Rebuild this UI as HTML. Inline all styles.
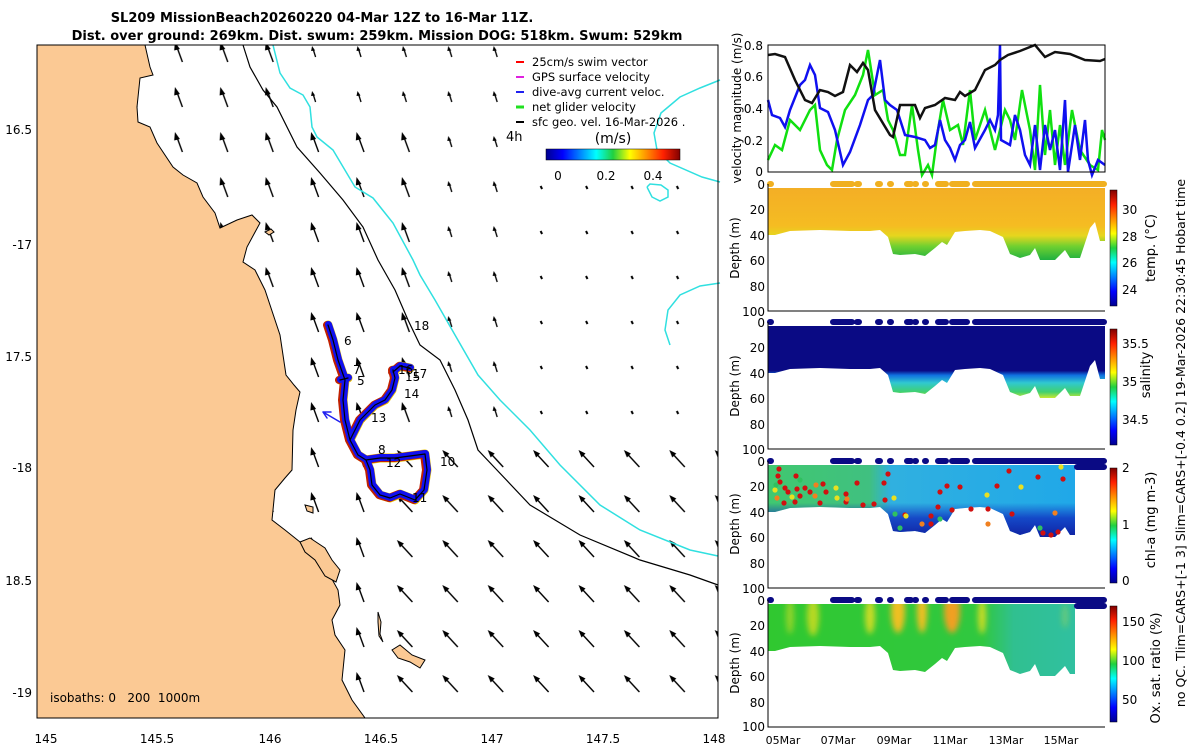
<!DOCTYPE html>
<html><head><meta charset="utf-8"><style>
body{margin:0;background:#fff;width:1200px;height:750px;overflow:hidden}
svg{display:block;font-family:"DejaVu Sans","Liberation Sans",sans-serif}
</style></head><body>
<svg width="1200" height="750" viewBox="0 0 1200 750" xmlns="http://www.w3.org/2000/svg">
<defs>
<linearGradient id="jetH" x1="0" x2="1" y1="0" y2="0">
<stop offset="0" stop-color="#00008f"/><stop offset=".125" stop-color="#0000ff"/><stop offset=".375" stop-color="#00ffff"/><stop offset=".5" stop-color="#20d040"/><stop offset=".625" stop-color="#ffff00"/><stop offset=".875" stop-color="#ff2000"/><stop offset="1" stop-color="#800000"/></linearGradient>
<linearGradient id="jetV" x1="0" x2="0" y1="1" y2="0">
<stop offset="0" stop-color="#00008f"/><stop offset=".125" stop-color="#0000ff"/><stop offset=".375" stop-color="#00ffff"/><stop offset=".5" stop-color="#20d040"/><stop offset=".625" stop-color="#ffff00"/><stop offset=".875" stop-color="#ff2000"/><stop offset="1" stop-color="#800000"/></linearGradient>
<linearGradient id="gT" gradientUnits="userSpaceOnUse" x1="0" y1="184" x2="0" y2="260">
<stop offset="0" stop-color="#f3ad26"/><stop offset=".55" stop-color="#f5bc22"/><stop offset=".68" stop-color="#e6d61e"/><stop offset=".82" stop-color="#70d030"/><stop offset="1" stop-color="#20b040"/></linearGradient>
<linearGradient id="gS" gradientUnits="userSpaceOnUse" x1="0" y1="184" x2="0" y2="260">
<stop offset="0" stop-color="#0a0a84"/><stop offset=".64" stop-color="#0a0a84"/><stop offset=".7" stop-color="#1070e0"/><stop offset=".8" stop-color="#30c8d0"/><stop offset=".92" stop-color="#40d070"/><stop offset="1" stop-color="#c8e830"/></linearGradient>
<linearGradient id="gC" gradientUnits="userSpaceOnUse" x1="768" y1="0" x2="1075" y2="0">
<stop offset="0" stop-color="#40c870"/><stop offset=".33" stop-color="#40c080"/><stop offset=".4" stop-color="#30b0e0"/><stop offset="1" stop-color="#20a8e8"/></linearGradient>
<linearGradient id="gC2" gradientUnits="userSpaceOnUse" x1="0" y1="184" x2="0" y2="260">
<stop offset="0" stop-color="#1030c0" stop-opacity="0"/><stop offset=".55" stop-color="#1030c0" stop-opacity="0"/><stop offset=".75" stop-color="#1030c0" stop-opacity=".8"/><stop offset="1" stop-color="#1020a0" stop-opacity="1"/></linearGradient>
<linearGradient id="gO" gradientUnits="userSpaceOnUse" x1="768" y1="0" x2="1075" y2="0">
<stop offset="0" stop-color="#30c830"/><stop offset=".7" stop-color="#30c840"/><stop offset=".8" stop-color="#30c090"/><stop offset="1" stop-color="#30c0a0"/></linearGradient>
<polygon id="P" points="768,188 1105,188 1105,241 1100,241 1095,222 1090,228 1080,258 1070,258 1065,250 1055,260 1040,260 1035,248 1030,255 1020,258 1010,254 1003,237 990,231 980,230 965,231 955,232 947,245 942,242 935,248 925,256 915,254 900,255 893,254 888,237 880,230 870,231 850,231 820,230 790,231 775,235 768,235"/>
<polygon id="Q" points="768,188 1075,188 1075,258 1070,258 1065,250 1055,260 1040,260 1035,248 1030,255 1020,258 1010,254 1003,237 990,231 980,230 965,231 955,232 947,245 942,242 935,248 925,256 915,254 900,255 893,254 888,237 880,230 870,231 850,231 820,230 790,231 775,235 768,235"/>
<clipPath id="cQ"><use href="#Q"/></clipPath>
<filter id="bl"><feGaussianBlur stdDeviation="3"/></filter>
<pattern id="pA" patternUnits="userSpaceOnUse" x="110" y="30" width="45.4" height="45">
<path d="M27,32 L21.5,17" stroke="#000" stroke-width="1.4"/><path d="M19.5,12 L24.5,19 L18.8,20.5Z" fill="#000"/></pattern>
<pattern id="pB" patternUnits="userSpaceOnUse" x="110" y="30" width="45.4" height="45">
<path d="M24,27 L21.5,19" stroke="#000" stroke-width="1.3"/><path d="M20.5,16 L23.5,20.5 L19.5,21Z" fill="#000"/></pattern>
<pattern id="pC" patternUnits="userSpaceOnUse" x="110" y="30" width="45.4" height="45">
<path d="M23.5,24 L22,21" stroke="#000" stroke-width="2"/></pattern>
<pattern id="pD" patternUnits="userSpaceOnUse" x="110" y="30" width="45.4" height="45">
<path d="M30,32 L18,19" stroke="#000" stroke-width="1.4"/><path d="M14.5,15 L21.5,18.5 L17.5,22.5Z" fill="#000"/></pattern>
<path id="trk" d="M328,325 L333,340 338,360 345,380 343,400 345,420 350,440 358,455 366,460 380,458 395,458 410,456 425,454 427,470 424,490 415,500 400,494 390,498 380,495 372,485 370,470 366,460 M350,440 L360,420 375,405 385,400 392,390 395,378 393,370 M393,372 L400,366 410,368 M340,380 L348,378"/>
</defs>

<text x="322" y="22" font-size="13" font-weight="bold" text-anchor="middle">SL209 MissionBeach20260220 04-Mar 12Z to 16-Mar 11Z.</text>
<text x="377" y="40" font-size="13" font-weight="bold" text-anchor="middle">Dist. over ground: 269km. Dist. swum: 259km. Mission DOG: 518km. Swum: 529km</text>

<!-- MAP -->
<g>
<rect x="110" y="120" width="317.8" height="315" fill="url(#pA)"/>
<rect x="110" y="45" width="181.6" height="75" fill="url(#pA)"/>
<rect x="291.6" y="45" width="227" height="75" fill="url(#pB)"/>
<rect x="427.8" y="120" width="90.8" height="315" fill="url(#pB)"/>
<rect x="518.6" y="165" width="199.4" height="270" fill="url(#pC)"/>
<rect x="700.2" y="45" width="17.8" height="120" fill="url(#pC)"/>
<rect x="110" y="435" width="272.4" height="283" fill="url(#pA)"/>
<rect x="382.4" y="435" width="335.6" height="283" fill="url(#pD)"/>

<path d="M37,45 L145,45 150,67 153,75 140,78 137,107 138,122 150,127 157,143 173,167 183,175 197,183 203,197 215,213 220,228 237,220 252,215 260,223 247,247 243,262 255,270 265,290 280,335 286,375 294,385 300,392 296,410 293,430 292,470 285,478 275,490 272,520 285,530 300,542 315,556 328,572 338,590 340,605 332,620 335,635 345,650 342,680 352,700 365,718 37,718 Z" fill="#fbc994" stroke="#000" stroke-width="1"/>
<path d="M300,542 L310,538 325,548 332,560 340,570 336,582 325,576 315,560 305,552Z" fill="#fbc994" stroke="#000" stroke-width="1"/>
<path d="M392,650 L398,658 410,662 420,668 425,660 412,655 400,645Z" fill="#fbc994" stroke="#000" stroke-width="1"/>
<path d="M378,612 l3,10 -1,12 3,8 -4,-6 -1,-14z M305,505 l8,2 0,6 -6,-2z M265,232 l6,-3 3,3 -5,3z" fill="#fbc994" stroke="#000" stroke-width="1"/>
<polyline fill="none" stroke="#000" stroke-width="1.2" points="243,45 250,67 263,90 277,107 297,147 320,173 343,200 363,227 378,260 395,290 408,320 420,345 440,360 455,390 468,420 478,450 495,468 530,505 580,535 640,560 690,575 718,585"/>
<polyline fill="none" stroke="#30e0e0" stroke-width="1.5" points="273,45 280,73 290,88 303,95 310,107 312,127 317,137 333,150 355,187 373,198 393,223 413,260 420,275 435,300 455,335 478,375 500,400 530,430 560,465 600,505 640,530 690,550 718,556"/>
<polyline fill="none" stroke="#30e0e0" stroke-width="1.5" points="720,80 700,88 680,97 661,113 654,133 657,150 670,163 702,177 720,182"/>
<polyline fill="none" stroke="#30e0e0" stroke-width="1.5" points="647,187 652,197 660,201 668,197 668,190 661,185 650,184 647,187"/>
<polyline fill="none" stroke="#30e0e0" stroke-width="1.5" points="720,283 700,286 680,295 668,310 665,330 670,345"/>

<g fill="none" stroke-linejoin="round" stroke-linecap="round">
<use href="#trk" stroke="#e8c000" stroke-width="9"/>
<use href="#trk" stroke="#c02000" stroke-width="8" transform="translate(-1,0)"/>
<use href="#trk" stroke="#1010f0" stroke-width="7" transform="translate(0.5,-0.5)"/>
<use href="#trk" stroke="#000" stroke-width="1.2"/>
<path d="M340,422 L323,412 M323,412 l8,0 M323,412 l4,6" stroke="#2020f0" stroke-width="1.5"/>
</g>
<g font-size="12">
<text x="344" y="345">6</text><text x="353" y="374">7</text><text x="357" y="385">5</text>
<text x="398" y="374">16</text><text x="405" y="381">15</text><text x="412" y="378">17</text>
<text x="404" y="398">14</text><text x="371" y="422">13</text><text x="378" y="454">8</text>
<text x="386" y="467">12</text><text x="440" y="466">10</text><text x="412" y="502">11</text><text x="414" y="330">18</text>
</g>
<text x="50" y="702" font-size="12" xml:space="preserve">isobaths: 0   200  1000m</text>

<g font-size="11.5">
<line x1="516" y1="62" x2="524" y2="62" stroke="#f00" stroke-width="2"/><text x="532" y="66">25cm/s swim vector</text>
<line x1="516" y1="77" x2="524" y2="77" stroke="#e020e0" stroke-width="2"/><text x="532" y="81">GPS surface velocity</text>
<line x1="516" y1="92" x2="524" y2="92" stroke="#2020f0" stroke-width="2"/><text x="532" y="96">dive-avg current veloc.</text>
<line x1="516" y1="107" x2="524" y2="107" stroke="#20e020" stroke-width="3"/><text x="532" y="111">net glider velocity</text>
<line x1="516" y1="122" x2="524" y2="122" stroke="#000" stroke-width="2"/><text x="532" y="126">sfc geo. vel. 16-Mar-2026 .</text>
</g>
<text x="506" y="141" font-size="13">4h</text>
<text x="613" y="143" font-size="14" text-anchor="middle">(m/s)</text>
<rect x="546" y="149" width="134" height="11" fill="url(#jetH)" stroke="#000" stroke-width=".5"/>
<g font-size="12" text-anchor="middle"><text x="558" y="180">0</text><text x="606" y="180">0.2</text><text x="653" y="180">0.4</text></g>

<rect x="37" y="45" width="681" height="673" fill="none" stroke="#000" stroke-width="1"/>
<g font-size="12" text-anchor="end"><text x="32" y="134">16.5</text><text x="32" y="249">-17</text><text x="32" y="361">17.5</text><text x="32" y="472">-18</text><text x="32" y="585">18.5</text><text x="32" y="697">-19</text></g>
<g font-size="12" text-anchor="middle"><text x="46" y="743">145</text><text x="157" y="743">145.5</text><text x="270" y="743">146</text><text x="381" y="743">146.5</text><text x="492" y="743">147</text><text x="603" y="743">147.5</text><text x="714" y="743">148</text></g>
</g>

<!-- VELOCITY PANEL -->
<polyline fill="none" stroke="#10e010" stroke-width="2.5" points="768,160 775,145 782,150 790,120 800,130 810,110 815,105 820,150 827,165 832,170 837,140 845,110 855,95 863,75 868,50 875,95 883,90 888,120 893,130 900,155 905,155 912,105 918,150 922,175 928,165 932,175 938,130 943,100 950,130 958,125 963,145 970,90 975,140 985,110 995,150 1005,110 1010,120 1015,140 1022,90 1030,130 1035,170 1040,85 1045,155 1050,110 1055,165 1060,125 1065,165 1072,110 1080,150 1090,165 1098,170 1102,130 1105,140"/>
<polyline fill="none" stroke="#1010f0" stroke-width="2.5" points="768,100 772,115 780,118 785,127 790,110 800,85 805,80 810,65 815,75 820,108 828,112 835,130 843,165 850,152 860,125 868,100 873,95 880,60 885,100 890,105 897,110 905,135 915,137 925,140 930,148 935,145 940,120 945,140 950,148 955,160 960,145 965,140 970,122 975,148 985,130 990,120 995,130 998,115 1000,45 1001,140 1010,145 1015,115 1020,130 1025,155 1030,165 1035,125 1040,170 1045,125 1050,150 1055,130 1060,170 1065,100 1068,172 1075,125 1080,160 1085,120 1088,160 1092,175 1098,160 1105,165"/>
<polyline fill="none" stroke="#111" stroke-width="2.5" points="768,55 775,54 785,57 795,80 805,100 812,103 820,90 828,92 835,96 843,92 850,65 857,72 863,63 868,70 875,110 890,135 893,137 900,105 915,105 920,118 925,108 935,105 945,98 955,100 960,92 965,96 975,90 985,70 995,65 1000,60 1008,55 1020,51 1035,45 1045,57 1055,52 1070,54 1085,60 1100,61 1105,59"/>
<rect x="768" y="45" width="337" height="127" fill="none" stroke="#000"/>
<g font-size="12" text-anchor="end"><text x="763" y="50">0.8</text><text x="763" y="81">0.6</text><text x="763" y="113">0.4</text><text x="763" y="145">0.2</text><text x="763" y="176">0</text></g>
<text transform="translate(741,108) rotate(-90)" font-size="12" text-anchor="middle">velocity magnitude (m/s)</text>

<!-- PROFILE PANELS -->
<use href="#P" fill="url(#gT)"/>
<g transform="translate(0,138)"><use href="#P" fill="url(#gS)"/></g>
<g transform="translate(0,277)">
<use href="#Q" fill="url(#gC)"/>
<use href="#Q" fill="url(#gC2)"/>
</g>
<g transform="translate(0,416)">
<use href="#Q" fill="url(#gO)"/>
<g clip-path="url(#cQ)">
<g filter="url(#bl)" fill="#f0e020">
<ellipse cx="790" cy="200" rx="4" ry="18" opacity=".5"/><ellipse cx="813" cy="200" rx="6" ry="20" opacity=".7"/>
<ellipse cx="870" cy="200" rx="5" ry="18" opacity=".8"/><ellipse cx="898" cy="195" rx="7" ry="22" fill="#f0c020"/>
<ellipse cx="922" cy="195" rx="5" ry="22" fill="#f0c020"/><ellipse cx="952" cy="195" rx="8" ry="22" fill="#f0a020"/>
<ellipse cx="982" cy="200" rx="4" ry="18" opacity=".8"/><ellipse cx="1065" cy="200" rx="3" ry="12" opacity=".3"/>
</g></g>
</g>

<!-- chl dots -->
<g>
<circle cx="779" cy="469" r="2.6" fill="#d01010"/><circle cx="778" cy="476" r="2.6" fill="#d01010"/><circle cx="780" cy="482" r="2.6" fill="#d01010"/>
<circle cx="785" cy="488" r="2.6" fill="#d01010"/><circle cx="788" cy="492" r="2.6" fill="#d01010"/><circle cx="796" cy="476" r="2.6" fill="#d01010"/>
<circle cx="797" cy="489" r="2.6" fill="#d01010"/><circle cx="800" cy="496" r="2.6" fill="#d01010"/><circle cx="784" cy="503" r="2.6" fill="#d01010"/>
<circle cx="795" cy="502" r="2.6" fill="#d01010"/><circle cx="805" cy="488" r="2.6" fill="#d01010"/><circle cx="810" cy="492" r="2.6" fill="#d01010"/>
<circle cx="823" cy="484" r="2.6" fill="#d01010"/><circle cx="826" cy="492" r="2.6" fill="#d01010"/><circle cx="820" cy="503" r="2.6" fill="#d01010"/>
<circle cx="846" cy="494" r="2.6" fill="#d01010"/><circle cx="846" cy="502" r="2.6" fill="#d01010"/><circle cx="857" cy="483" r="2.6" fill="#d01010"/>
<circle cx="863" cy="505" r="2.6" fill="#d01010"/><circle cx="874" cy="504" r="2.6" fill="#d01010"/><circle cx="888" cy="474" r="2.6" fill="#d01010"/>
<circle cx="885" cy="500" r="2.6" fill="#d01010"/><circle cx="884" cy="483" r="2.6" fill="#d01010"/><circle cx="905" cy="515" r="2.6" fill="#d01010"/>
<circle cx="931" cy="516" r="2.6" fill="#d01010"/><circle cx="931" cy="524" r="2.6" fill="#d01010"/><circle cx="938" cy="507" r="2.6" fill="#d01010"/>
<circle cx="940" cy="492" r="2.6" fill="#d01010"/><circle cx="947" cy="486" r="2.6" fill="#d01010"/><circle cx="952" cy="510" r="2.6" fill="#d01010"/>
<circle cx="960" cy="487" r="2.6" fill="#d01010"/><circle cx="971" cy="509" r="2.6" fill="#d01010"/><circle cx="988" cy="509" r="2.6" fill="#d01010"/>
<circle cx="997" cy="486" r="2.6" fill="#d01010"/><circle cx="1009" cy="471" r="2.6" fill="#d01010"/><circle cx="1012" cy="514" r="2.6" fill="#d01010"/>
<circle cx="1038" cy="477" r="2.6" fill="#d01010"/><circle cx="1043" cy="533" r="2.6" fill="#d01010"/><circle cx="1051" cy="535" r="2.6" fill="#d01010"/>
<circle cx="1058" cy="532" r="2.6" fill="#d01010"/><circle cx="1063" cy="479" r="2.6" fill="#d01010"/>
<circle cx="777" cy="498" r="2.6" fill="#f08020"/><circle cx="816" cy="485" r="2.6" fill="#f08020"/><circle cx="815" cy="496" r="2.6" fill="#f08020"/>
<circle cx="847" cy="499" r="2.6" fill="#f08020"/><circle cx="922" cy="524" r="2.6" fill="#f08020"/><circle cx="988" cy="524" r="2.6" fill="#f08020"/><circle cx="1055" cy="513" r="2.6" fill="#f08020"/>
<circle cx="775" cy="490" r="2.6" fill="#e8e020"/><circle cx="792" cy="497" r="2.6" fill="#e8e020"/><circle cx="836" cy="488" r="2.6" fill="#e8e020"/>
<circle cx="837" cy="498" r="2.6" fill="#e8e020"/><circle cx="894" cy="498" r="2.6" fill="#e8e020"/><circle cx="906" cy="516" r="2.6" fill="#e8e020"/>
<circle cx="987" cy="495" r="2.6" fill="#e8e020"/><circle cx="1021" cy="487" r="2.6" fill="#e8e020"/><circle cx="1061" cy="467" r="2.6" fill="#e8e020"/>
<circle cx="776" cy="485" r="2.6" fill="#30c060"/><circle cx="800" cy="480" r="2.6" fill="#30c060"/><circle cx="895" cy="514" r="2.6" fill="#30c060"/>
<circle cx="900" cy="528" r="2.6" fill="#30c060"/><circle cx="940" cy="519" r="2.6" fill="#30c060"/><circle cx="1040" cy="528" r="2.6" fill="#30c060"/>
</g>

<!-- surface dots -->
<g stroke-linecap="round" stroke-width="6">
<g stroke="#f0b020"><path d="M770,184h1M833,184h19M857,184h2M878,184h2M890,184h1M907,184h4M915,184h1M925,184h1M938,184h8M952,184h15M975,184h129"/></g>
<g stroke="#0a0a84"><path d="M770,322h1M833,322h19M857,322h2M878,322h2M890,322h1M907,322h4M915,322h1M925,322h1M938,322h8M952,322h15M975,322h129"/>
<path d="M770,461h1M833,461h19M857,461h2M878,461h2M890,461h1M907,461h4M915,461h1M925,461h1M938,461h8M952,461h15M975,461h129M1077,467h27"/>
<path d="M770,600h1M833,600h19M857,600h2M878,600h2M890,600h1M907,600h4M915,600h1M925,600h1M938,600h8M952,600h15M975,600h129M1077,606h27"/></g>
</g>

<g font-size="12" text-anchor="end">
<text x="765" y="189">0</text><text x="765" y="214">20</text><text x="765" y="240">40</text><text x="765" y="265">60</text><text x="765" y="291">80</text><text x="765" y="316">100</text>
<text x="765" y="327">0</text><text x="765" y="352">20</text><text x="765" y="378">40</text><text x="765" y="403">60</text><text x="765" y="429">80</text><text x="765" y="454">100</text>
<text x="765" y="466">0</text><text x="765" y="491">20</text><text x="765" y="517">40</text><text x="765" y="542">60</text><text x="765" y="568">80</text><text x="765" y="593">100</text>
<text x="765" y="605">0</text><text x="765" y="630">20</text><text x="765" y="656">40</text><text x="765" y="681">60</text><text x="765" y="707">80</text><text x="765" y="731">100</text>
</g>
<g font-size="12" text-anchor="middle">
<text transform="translate(739,248) rotate(-90)">Depth (m)</text>
<text transform="translate(739,386) rotate(-90)">Depth (m)</text>
<text transform="translate(739,524) rotate(-90)">Depth (m)</text>
<text transform="translate(739,663) rotate(-90)">Depth (m)</text>
</g>
<path d="M768,184 V311 H1105 M768,322 V449 H1105 M768,461 V588 H1105 M768,600 V727 H1105" fill="none" stroke="#000"/>
<g font-size="11" text-anchor="middle">
<text x="783" y="744">05Mar</text><text x="838" y="744">07Mar</text><text x="894" y="744">09Mar</text><text x="950" y="744">11Mar</text><text x="1006" y="744">13Mar</text><text x="1061" y="744">15Mar</text>
</g>

<g stroke="#000" stroke-width=".5">
<rect x="1110" y="190" width="7" height="116" fill="url(#jetV)"/>
<rect x="1110" y="329" width="7" height="116" fill="url(#jetV)"/>
<rect x="1110" y="468" width="7" height="115" fill="url(#jetV)"/>
<rect x="1110" y="606" width="7" height="116" fill="url(#jetV)"/>
</g>
<g font-size="12">
<text x="1122" y="214">30</text><text x="1122" y="241">28</text><text x="1122" y="267">26</text><text x="1122" y="294">24</text>
<text x="1122" y="348">35.5</text><text x="1122" y="386">35</text><text x="1122" y="424">34.5</text>
<text x="1122" y="472">2</text><text x="1122" y="529">1</text><text x="1122" y="585">0</text>
<text x="1122" y="626">150</text><text x="1122" y="665">100</text><text x="1122" y="704">50</text>
</g>
<g font-size="13" text-anchor="middle">
<text transform="translate(1155,248) rotate(-90)">temp. (°C)</text>
<text transform="translate(1150,375) rotate(-90)">salinity</text>
<text transform="translate(1155,520) rotate(-90)">chl-a (mg m-3)</text>
<text transform="translate(1160,668) rotate(-90)">Ox. sat. ratio (%)</text>
<text transform="translate(1185,443) rotate(-90)" font-size="12.5">no QC. Tlim=CARS+[-1 3] Slim=CARS+[-0.4 0.2] 19-Mar-2026 22:30:45 Hobart time</text>
</g>
</svg>
</body></html>
